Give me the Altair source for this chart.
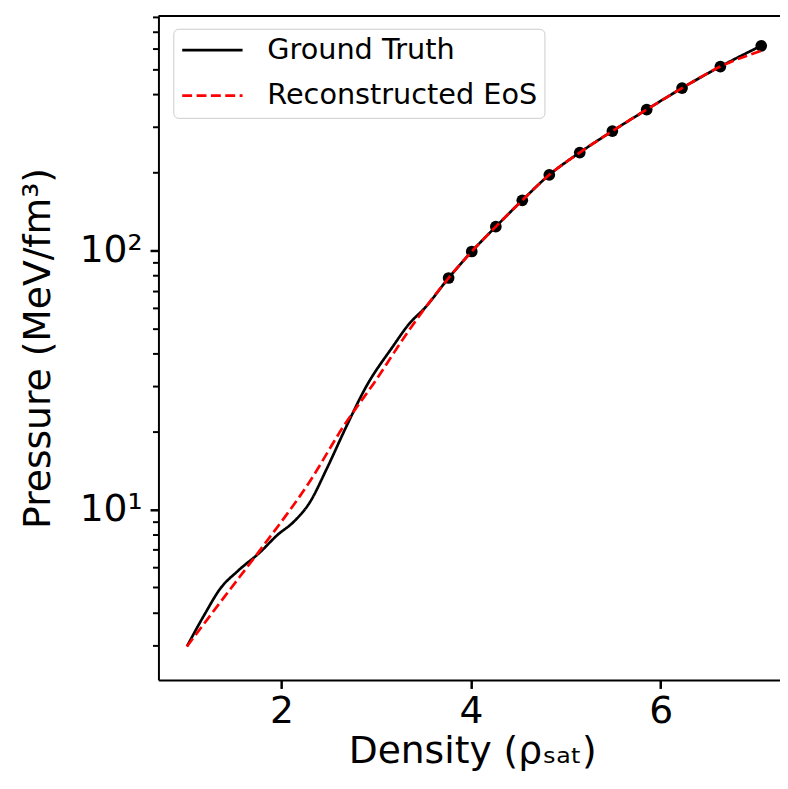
import altair as alt
import pandas as pd

# ---- data ----
series_names = ["Ground Truth", "Reconstructed EoS"]

gt_x = [1.003, 1.19, 1.36, 1.535, 1.78, 1.955, 2.127, 2.30, 2.475, 2.684, 2.893,
        3.171, 3.345, 3.519, 3.763, 4.007, 4.261, 4.540, 4.825, 5.146, 5.490,
        5.852, 6.225, 6.629, 7.060]
gt_y = [2.96, 3.94, 4.98, 5.77, 6.87, 7.96, 8.95, 10.67, 14.3, 20.9, 29.8,
        42.4, 52.0, 60.4, 78.3, 99.1, 123.6, 156.2, 195.9, 238.8, 289.0,
        349.8, 423.6, 512.9, 616.9]

rec_x = [1.003, 1.40, 1.807, 2.297, 2.653, 2.997, 3.342, 3.763, 4.007, 4.261,
         4.540, 4.825, 5.146, 5.490, 5.852, 6.225, 6.629, 7.060]
rec_y = [2.96, 4.61, 7.23, 12.8, 20.9, 31.6, 49.0, 78.3, 99.1, 123.6,
         156.2, 195.9, 238.8, 289.0, 349.8, 423.6, 512.9, 590.0]

dot_x = [3.763, 4.007, 4.261, 4.540, 4.825, 5.146, 5.490, 5.852, 6.225, 6.629, 7.060]
dot_y = [78.3, 99.1, 123.6, 156.2, 195.9, 238.8, 289.0, 349.8, 423.6, 512.9, 616.9]

x_ticks = [2, 4, 6]
y_major = [10, 100]
y_minor = [3, 4, 5, 6, 7, 8, 9, 20, 30, 40, 50, 60, 70, 80, 90,
           200, 300, 400, 500, 600, 700, 800]

x_domain = [0.7025, 7.258]
y_domain = [2.196, 804.5]

W, H = 628, 671
FONT = "DejaVu Sans"

gt = pd.DataFrame({"x": gt_x, "y": gt_y, "series": series_names[0]})
rec = pd.DataFrame({"x": rec_x, "y": rec_y, "series": series_names[1]})
dots = pd.DataFrame({"x": dot_x, "y": dot_y})
frame = pd.DataFrame({"k": [0]})

xscale = alt.Scale(domain=x_domain, nice=False, zero=False)
yscale = alt.Scale(type="log", domain=y_domain, nice=False)

color_enc = alt.Color("series:N",
                      scale=alt.Scale(domain=series_names, range=["black", "red"]),
                      title=None)
dash_enc = alt.StrokeDash("series:N",
                          scale=alt.Scale(domain=series_names, range=[[1, 0], [10, 4.5]]),
                          title=None)

x_axis = alt.Axis(values=x_ticks, format="d", tickSize=8.5, labelPadding=4,
                  title="Density (ρₛₐₜ)", titlePadding=3, titleX=317,
                  labelFlush=False, labelOverlap=False, orient="bottom")

y_axis_major = alt.Axis(values=y_major, orient="left", tickSize=8.5, labelPadding=8,
                        labelExpr="datum.value == 10 ? '10¹' : '10²'",
                        title="Pressure (MeV/fm³)", titlePadding=22,
                        labelOverlap=False)
y_axis_minor = alt.Axis(values=y_minor, orient="left", tickSize=6, tickWidth=2,
                        labels=False, domain=False, title=None)

black_line = alt.Chart(gt).mark_line(strokeWidth=2.7, interpolate="monotone").encode(
    x=alt.X("x:Q", scale=xscale, axis=x_axis),
    y=alt.Y("y:Q", scale=yscale, axis=y_axis_major),
    color=color_enc,
    strokeDash=dash_enc,
)

points = alt.Chart(dots).mark_circle(size=140, color="black", opacity=1).encode(
    x=alt.X("x:Q", scale=xscale, axis=x_axis),
    y=alt.Y("y:Q", scale=yscale, axis=y_axis_minor),
)

red_line = alt.Chart(rec).mark_line(strokeWidth=2.7, interpolate="monotone").encode(
    x=alt.X("x:Q", scale=xscale, axis=x_axis),
    y=alt.Y("y:Q", scale=yscale, axis=None),
    color=color_enc,
    strokeDash=dash_enc,
)

top_spine = alt.Chart(frame).mark_rule(color="black", strokeWidth=2).encode(
    x=alt.value(0), x2=alt.value(W), y=alt.value(0)
)

chart = (
    alt.layer(black_line, points, red_line, top_spine)
    .resolve_scale(y="shared", x="shared")
    .resolve_axis(y="independent", x="shared")
    .properties(
        width=W, height=H,
        autosize=alt.AutoSizeParams(type="none"),
        padding={"left": 152, "top": 4, "right": 0, "bottom": 96},
    )
    .configure_view(stroke=None)
    .configure_axis(
        domainColor="black", domainWidth=2, tickColor="black", tickWidth=2.5,
        labelFont=FONT, labelFontSize=38, labelColor="black",
        titleFont=FONT, titleFontSize=38, titleFontWeight="normal", titleColor="black",
        grid=False,
    )
    .configure_legend(
        orient="none", legendX=15, legendY=13, padding=7, cornerRadius=5,
        strokeColor="#cccccc", fillColor="white",
        labelFont=FONT, labelFontSize=29, labelColor="black", labelLimit=500,
        symbolType="M-3,0H3", symbolSize=413, symbolStrokeWidth=2.7,
        symbolOffset=18, labelOffset=41, rowPadding=16,
    )
)

chart.save("out.html", embed_options={"renderer": "svg", "actions": False})
